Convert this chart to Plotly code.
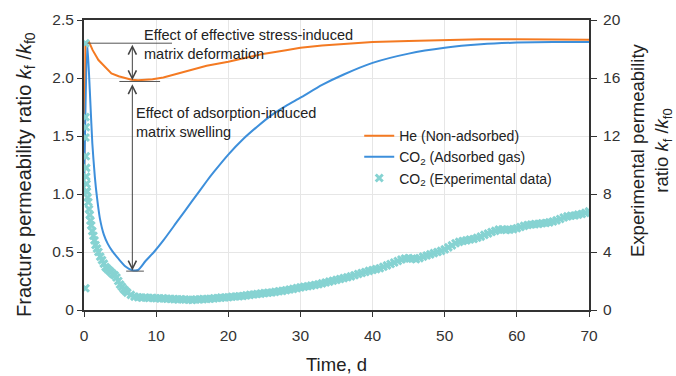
import plotly.graph_objects as go

# ---------------- data ----------------
# He (non-adsorbed) model curve, left axis
he_t = [0, 0.2, 0.7, 1.2, 2.0, 3.0, 3.8, 4.8, 5.7, 6.6, 7.5, 8.5, 9.5, 11, 13, 15, 17, 20, 22, 25, 28, 30, 33, 36, 40, 45, 50, 55, 60, 65, 70]
he_k = [1.0, 2.30, 2.31, 2.24, 2.155, 2.09, 2.04, 2.015, 2.0, 1.985, 1.98, 1.983, 1.99, 2.005, 2.04, 2.075, 2.105, 2.14, 2.17, 2.21, 2.24, 2.26, 2.28, 2.295, 2.31, 2.32, 2.33, 2.335, 2.335, 2.335, 2.33]

# CO2 (adsorbed gas) model curve, left axis
co2_t = [0, 0.45, 0.8, 1.15, 1.5, 1.8, 2.2, 2.75, 3.3, 3.9, 4.8, 5.75, 6.6, 7.5, 8.5, 9.7, 11, 13, 15, 17, 18, 20, 22, 24, 26, 28, 30, 33, 36, 40, 45, 50, 55, 60, 65, 70]
co2_k = [1.0, 2.30, 1.90, 1.44, 1.15, 0.97, 0.79, 0.65, 0.57, 0.51, 0.44, 0.375, 0.345, 0.345, 0.42, 0.50, 0.60, 0.77, 0.94, 1.11, 1.19, 1.34, 1.47, 1.58, 1.68, 1.76, 1.83, 1.94, 2.03, 2.13, 2.21, 2.26, 2.29, 2.305, 2.31, 2.31]

# CO2 experimental data, right axis
exp_t = [0.2, 0.2, 0.25, 0.2, 0.25, 0.3, 0.3, 0.35, 0.35, 0.2,
         0.4, 0.5, 0.6, 0.7, 0.8, 0.9, 1.0, 1.15, 1.3, 1.45, 1.6, 1.8, 2.0, 2.25, 2.5, 2.75, 3.0, 3.25, 3.5, 3.75,
         4.0, 4.25, 4.5, 4.75, 5.0, 5.25, 5.5, 5.75, 6.0, 6.5,
         7.0, 7.5, 8.0, 8.5, 9.0, 9.5, 10.0, 10.5, 11.0, 11.5, 12.0, 12.5, 13.0, 13.5, 14.0, 14.5, 15.0, 15.5,
         16.0, 16.5, 17.0, 17.5, 18.0, 18.5, 19.0, 19.5, 20.0, 20.5, 21.0, 21.5, 22.0, 22.5, 23.0, 23.5, 24.0,
         24.5, 25.0, 25.5, 26.0, 26.5, 27.0, 27.5, 28.0, 28.5, 29.0, 29.5, 30.0, 30.5, 31.0, 31.5, 32.0, 32.5,
         33.0, 33.5, 34.0, 34.5, 35.0, 35.5, 36.0, 36.5, 37.0, 37.5, 38.0, 38.5, 39.0, 39.5, 40.0, 40.5, 41.0,
         41.5, 42.0, 42.5, 43.0, 43.5, 44.0, 44.5, 45.0, 45.5, 46.0, 46.5, 47.0, 47.5, 48.0, 48.5, 49.0, 49.5,
         50.0, 50.5, 51.0, 51.5, 52.0, 52.5, 53.0, 53.5, 54.0, 54.5, 55.0, 55.5, 56.0, 56.5, 57.0, 57.5, 58.0,
         58.5, 59.0, 59.5, 60.0, 60.5, 61.0, 61.5, 62.0, 62.5, 63.0, 63.5, 64.0, 64.5, 65.0, 65.5, 66.0, 66.5,
         67.0, 67.5, 68.0, 68.5, 69.0, 69.5, 70.0]
exp_k = [18.4, 13.3, 12.6, 11.9, 10.6, 9.8, 9.2, 8.7, 8.2, 1.5,
         8.16, 7.76, 7.44, 6.96, 6.56, 6.16, 5.84, 5.44, 5.12, 4.80, 4.48, 4.24, 4.00, 3.68, 3.44, 3.20, 2.96, 2.84, 2.72, 2.60,
         2.48, 2.40, 2.24, 2.00, 1.76, 1.60, 1.44, 1.32, 1.20, 1.04,
         0.92, 0.88, 0.85, 0.86, 0.83, 0.84, 0.81, 0.80, 0.80, 0.78, 0.77, 0.75, 0.73, 0.74, 0.72, 0.71, 0.70, 0.72,
         0.73, 0.75, 0.76, 0.78, 0.80, 0.83, 0.85, 0.86, 0.88, 0.91, 0.93, 0.95, 0.97, 1.01, 1.04, 1.07, 1.10,
         1.13, 1.16, 1.19, 1.21, 1.25, 1.29, 1.32, 1.36, 1.41, 1.46, 1.51, 1.56, 1.60, 1.64, 1.68, 1.72, 1.78,
         1.84, 1.90, 1.96, 2.02, 2.08, 2.14, 2.20, 2.26, 2.32, 2.40, 2.48, 2.55, 2.62, 2.70, 2.76, 2.82, 2.88,
         2.98, 3.08, 3.17, 3.28, 3.38, 3.48, 3.55, 3.58, 3.54, 3.50, 3.58, 3.68, 3.76, 3.84, 3.92, 4.00, 4.08,
         4.18, 4.32, 4.46, 4.60, 4.70, 4.76, 4.80, 4.86, 4.90, 4.98, 5.06, 5.18, 5.28, 5.38, 5.46, 5.54, 5.56,
         5.52, 5.54, 5.58, 5.64, 5.72, 5.80, 5.86, 5.90, 5.92, 5.94, 5.98, 6.00, 6.04, 6.10, 6.18, 6.28, 6.38,
         6.46, 6.50, 6.52, 6.58, 6.62, 6.70, 6.80]

x_ticks = [0, 10, 20, 30, 40, 50, 60, 70]
y_ticks = [0, 0.5, 1.0, 1.5, 2.0, 2.5]
y_tick_text = ["0", "0.5", "1.0", "1.5", "2.0", "2.5"]
y2_ticks = [0, 4, 8, 12, 16, 20]

ORANGE = "#F47A22"
BLUE = "#3D8FDB"
TEAL = "#86D3D2"
FONT = "Liberation Sans, Arial, sans-serif"
AX = "#333333"
TXT = "#222222"
GRID = "#E6E6E6"

fig = go.Figure()
fig.add_trace(go.Scatter(x=he_t, y=he_k, mode="lines", name="He (Non-adsorbed)",
                         line=dict(color=ORANGE, width=2)))
fig.add_trace(go.Scatter(x=co2_t, y=co2_k, mode="lines", name="CO<sub>2</sub> (Adsorbed gas)",
                         line=dict(color=BLUE, width=2, shape="spline", smoothing=0.6)))
fig.add_trace(go.Scatter(x=exp_t, y=exp_k, mode="markers", name="CO<sub>2</sub> (Experimental data)",
                         yaxis="y2",
                         marker=dict(symbol="x-thin", size=7, color=TEAL,
                                     line=dict(color=TEAL, width=3))))

# guide lines
line_style = dict(color="#555555", width=1)
for (x0, x1, yv) in [(0.5, 12.2, 2.30), (4.9, 10.55, 1.97), (5.85, 8.3, 0.335)]:
    fig.add_shape(type="line", xref="x", yref="y", x0=x0, x1=x1, y0=yv, y1=yv, line=line_style)

# double-headed arrows
for (y_top, y_bot) in [(2.30, 1.98), (1.96, 0.34)]:
    fig.add_annotation(x=6.7, y=y_bot, ax=6.7, ay=y_top, xref="x", yref="y", axref="x", ayref="y",
                       text="", showarrow=True, arrowhead=5, startarrowhead=5, arrowside="end+start",
                       arrowsize=1.6, startarrowsize=1.6, arrowwidth=1, arrowcolor="#444444",
                       standoff=0, startstandoff=0)

fig.add_annotation(x=8.1, y=2.285, xref="x", yref="y", xanchor="left", yanchor="middle", align="left",
                   text="Effect of effective stress-induced<br>matrix deformation", showarrow=False,
                   font=dict(family=FONT, size=14.5, color=TXT))
fig.add_annotation(x=6.9, y=1.62, xref="x", yref="y", xanchor="left", yanchor="middle", align="left",
                   text="Effect of adsorption-induced<br>matrix swelling", showarrow=False,
                   font=dict(family=FONT, size=14.5, color=TXT))

# axis titles (placed as annotations to match the reference positions)
fig.add_annotation(xref="paper", yref="paper", x=0.5, y=0, xanchor="center", yanchor="middle",
                   yshift=-54, showarrow=False, text="Time, d",
                   font=dict(family=FONT, size=18.5, color=TXT))
fig.add_annotation(xref="paper", yref="paper", x=0, y=0.5, xanchor="center", yanchor="middle",
                   xshift=-59, yshift=-10, textangle=-90, showarrow=False,
                   text="Fracture permeability ratio <i>k</i><sub>f</sub> /<i>k</i><sub>f0</sub>",
                   font=dict(family=FONT, size=20, color=TXT))
fig.add_annotation(xref="paper", yref="paper", x=1, y=0.5, xanchor="center", yanchor="middle",
                   xshift=62, yshift=15, textangle=-90, showarrow=False,
                   text="Experimental permeability<br>ratio <i>k</i><sub>f</sub> /<i>k</i><sub>f0</sub>",
                   font=dict(family=FONT, size=18.5, color=TXT))

fig.update_layout(
    width=676, height=376,
    margin=dict(l=84, r=87, t=20, b=66, autoexpand=False),
    paper_bgcolor="white", plot_bgcolor="white",
    font=dict(family=FONT, size=15.5, color=AX),
    showlegend=True,
    legend=dict(x=0.545, y=0.655, xanchor="left", yanchor="top", bgcolor="rgba(0,0,0,0)",
                font=dict(family=FONT, size=14, color=TXT), tracegroupgap=0),
    xaxis=dict(range=[0, 70], tickvals=x_ticks, showgrid=True, gridcolor=GRID, gridwidth=1,
               showline=True, linecolor=AX, linewidth=2, mirror=True, automargin=False,
               ticks="outside", ticklen=5, tickcolor=AX, zeroline=False, ticklabelstandoff=5),
    yaxis=dict(range=[0, 2.5], tickvals=y_ticks, ticktext=y_tick_text, showgrid=True, gridcolor=GRID,
               showline=True, linecolor=AX, linewidth=2, ticks="outside", ticklen=5, tickcolor=AX,
               zeroline=False, automargin=False),
    yaxis2=dict(range=[0, 20], tickvals=y2_ticks, overlaying="y", side="right", showgrid=False,
                showline=True, linecolor=AX, linewidth=2, ticks="outside", ticklen=6, tickcolor=AX,
                zeroline=False, ticklabelstandoff=3, automargin=False),
)

fig.write_html("out.html")
